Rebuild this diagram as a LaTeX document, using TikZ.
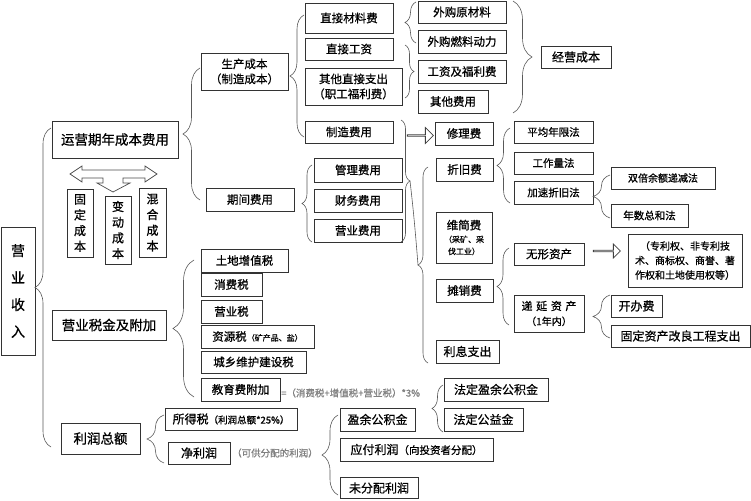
\documentclass[tikz,border=0pt]{standalone}
\usepackage{fontspec}
\setmainfont{Noto Sans CJK SC}[FakeBold=0.8]
\usetikzlibrary{decorations.pathreplacing,shapes.arrows}
\newcommand\fsz[2]{\fontsize{#1pt}{#2pt}\selectfont}
\begin{document}
\begin{tikzpicture}[x=1pt,y=-1pt,
 box/.style={draw=black!80,line width=0.8pt,inner sep=0pt,align=center,font=\fsz{11.5}{15}},
 sz/.style 2 args={minimum width=#1pt,minimum height=#2pt},
 brc/.style={decorate,decoration={brace,amplitude=#1},draw=black!65,line width=0.6pt},
 hol/.style={single arrow,draw=black!75,line width=0.8pt,inner sep=0pt,single arrow head extend=4pt,minimum width=16pt},
 note/.style={text=black!50,inner sep=0pt,anchor=west}]
\useasboundingbox (0,0) rectangle (751,500);

% left column
\node[box,sz={34}{128},font=\fsz{14}{27}] (yysr) at (18,291) {营\\业\\收\\入};
\node[box,sz={126}{37},font=\fsz{13.5}{16}] (yy) at (115,139.5) {运营期年成本费用};
\node[box,sz={114}{30},font=\fsz{13.5}{16}] (yysj) at (109,325) {营业税金及附加};
\node[box,sz={79}{31},font=\fsz{13.5}{16}] (lrze) at (100.5,438.5) {利润总额};

% cost types
\node[box,sz={26}{68},font=\fsz{12}{15.7}] (gdcb) at (80,223) {固\\定\\成\\本};
\node[box,sz={26}{68},font=\fsz{12}{15.7}] (bdcb) at (118,230) {变\\动\\成\\本};
\node[box,sz={27}{69},font=\fsz{12}{15.7}] (hhcb) at (152.5,222.5) {混\\合\\成\\本};
\draw[draw=black!70,line width=0.7pt,fill=white] (70,174) -- (82,166) -- (82,170) -- (145,170) -- (145,166) -- (157,174) -- (145,182) -- (145,178) -- (123,178) -- (123,183) -- (130,183) -- (113,192) -- (97,183) -- (103,183) -- (103,178) -- (82,178) -- (82,182) -- cycle;

% production cost
\node[box,sz={87}{37}] (sc) at (244.5,71.5) {生产成本\\（制造成本）};
\node[box,sz={88}{23}] (qjfy) at (250,199.5) {期间费用};
\node[box,sz={88}{30}] (zjcl) at (349,18) {直接材料费};
\node[box,sz={88}{22}] (zjgz) at (349,49) {直接工资};
\node[box,sz={97}{37}] (qtzj) at (353.5,86.5) {其他直接支出\\（职工福利费）};
\node[box,sz={88}{22}] (zzfy) at (349,132) {制造费用};
\node[box,sz={88}{24}] (glfy) at (358,170) {管理费用};
\node[box,sz={88}{23}] (cwfy) at (358,200.5) {财务费用};
\node[box,sz={88}{23}] (yyfy) at (358,230.5) {营业费用};

\node[box,sz={88}{22}] (wgycl) at (462,12) {外购原材料};
\node[box,sz={88}{23}] (wgrl) at (462,41.5) {外购燃料动力};
\node[box,sz={88}{23}] (gzfl) at (462,71.5) {工资及福利费};
\node[box,sz={70}{23}] (qtfy) at (453,101.5) {其他费用};
\node[box,sz={70}{22},font=\fsz{12}{15}] (jycb) at (576,57) {经营成本};

% manufacturing expenses
\node[box,sz={58}{23}] (xlf) at (464,133.5) {修理费};
\node[box,sz={57}{23}] (zjf) at (464.5,169.5) {折旧费};
\node[box,sz={56}{51}] (wjf) at (464,237.5) {维简费\\[-2pt]{\fsz{8}{13}（采矿、采}\\[-3pt]{\fsz{8}{13}伐工业）}};
\node[box,sz={57}{23}] (txf) at (464.5,290.5) {摊销费};
\node[box,sz={63}{23},font=\fsz{12}{15}] (lxzc) at (467.5,351.5) {利息支出};

\node[box,sz={79}{22},font=\fsz{10.5}{14}] (pjnx) at (553.5,132) {平均年限法};
\node[box,sz={79}{22},font=\fsz{10.5}{14}] (gzl) at (553.5,163) {工作量法};
\node[box,sz={79}{23},font=\fsz{10.5}{14}] (jszj) at (553.5,192.5) {加速折旧法};
\node[box,sz={104}{22},font=\fsz{10}{14}] (sbye) at (663,178) {双倍余额递减法};
\node[box,sz={77}{23},font=\fsz{10.5}{14}] (nszh) at (649.5,215.5) {年数总和法};

\node[box,sz={70}{22},font=\fsz{11.5}{15}] (wxzc) at (549,254) {无形资产};
\node[box,sz={114}{53},font=\fsz{10}{14.5}] (zlq) at (685,260.5) {（专利权、非专利技\\术、商标权、商誉、著\\作权和土地使用权等）};
\node[box,sz={70}{37},font=\fsz{11}{15}] (dyzc) at (549,313.5) {递\,\,延\,\,资\,\,产\\{\fsz{10}{14}（1年内）}};
\node[box,sz={51}{22},font=\fsz{12}{15}] (kbf) at (636.5,306) {开办费};
\node[box,sz={139}{22},font=\fsz{12}{15}] (gdzc) at (680.5,336) {固定资产改良工程支出};

\node[hol,minimum height=26pt] (ar1) at (420,135.5) {};
\node[hol,minimum height=27pt,minimum width=14pt,single arrow head extend=3.5pt] (ar2) at (606.5,251) {};

% taxes
\node[box,sz={87}{23}] (tdzz) at (244.5,260.5) {土地增值税};
\node[box,sz={61}{23}] (xfs) at (231.5,284.5) {消费税};
\node[box,sz={61}{23}] (yys) at (231.5,311.5) {营业税};
\node[box,sz={113}{23}] (zys) at (257.5,336.5) {资源税{\fsz{8}{12}（矿产品、盐）}};
\node[box,sz={105}{22}] (cxwh) at (253.5,362) {城乡维护建设税};
\node[box,sz={79}{23}] (jyfj) at (240.5,389.5) {教育费附加};
\node[note,font=\fsz{9.5}{12}] (gs) at (281,393) {=（消费税+增值税+营业税）*3\%};

% profit
\node[box,sz={132}{22},font=\fsz{12}{15}] (sds) at (231,419) {所得税{\fsz{9.5}{12}（利润总额*25\%）}};
\node[box,sz={62}{22},font=\fsz{12}{15}] (jlr) at (199,453) {净利润};
\node[note,font=\fsz{9.5}{12}] (kgfp) at (232,453) {（可供分配的利润）};
\node[box,sz={75}{23},font=\fsz{12}{15}] (yygj) at (377.5,419.5) {盈余公积金};
\node[box,sz={153}{23},font=\fsz{12}{15}] (yflr) at (416.5,449.5) {应付利润{\fsz{10.5}{13}（向投资者分配）}};
\node[box,sz={78}{21},font=\fsz{12}{15}] (wfp) at (379,488) {未分配利润};
\node[box,sz={104}{23},font=\fsz{12}{15}] (fdyy) at (496,389.5) {法定盈余公积金};
\node[box,sz={79}{23},font=\fsz{12}{15}] (fdgy) at (483.5,419.5) {法定公益金};

% braces
\draw[brc=16] (51,447) -- (51,128);
\draw[brc=17] (200,200) -- (200,68);
\draw[brc=14] (304,137) -- (304,15);
\draw[brc=10] (312,242) -- (312,165);
\draw[brc=11] (416,43) -- (416,2);
\draw[brc=9] (405,45) -- (405,98);
\draw[brc=19] (513,1) -- (513,113);
\draw[brc=9] (401,120) -- (401,242);
\draw[brc=10] (428,363) -- (428,167);
\coordinate (b7tip) at (410,181);
\coordinate (b8tip) at (418,265);
\draw[draw=black!65,line width=0.6pt] (b7tip) .. controls (414,215) and (416,240) .. (b8tip);
\draw[brc=13] (510,203) -- (510,128);
\draw[brc=17] (610,218) -- (610,175);
\draw[brc=12] (509,325) -- (509,248);
\draw[brc=17] (610,338) -- (610,295);
\draw[brc=21] (194,397) -- (194,260);
\draw[brc=17] (164,463) -- (164,415);
\draw[brc=16] (338,495) -- (338,415);
\draw[brc=11] (443,432) -- (443,385);
\end{tikzpicture}
\end{document}
